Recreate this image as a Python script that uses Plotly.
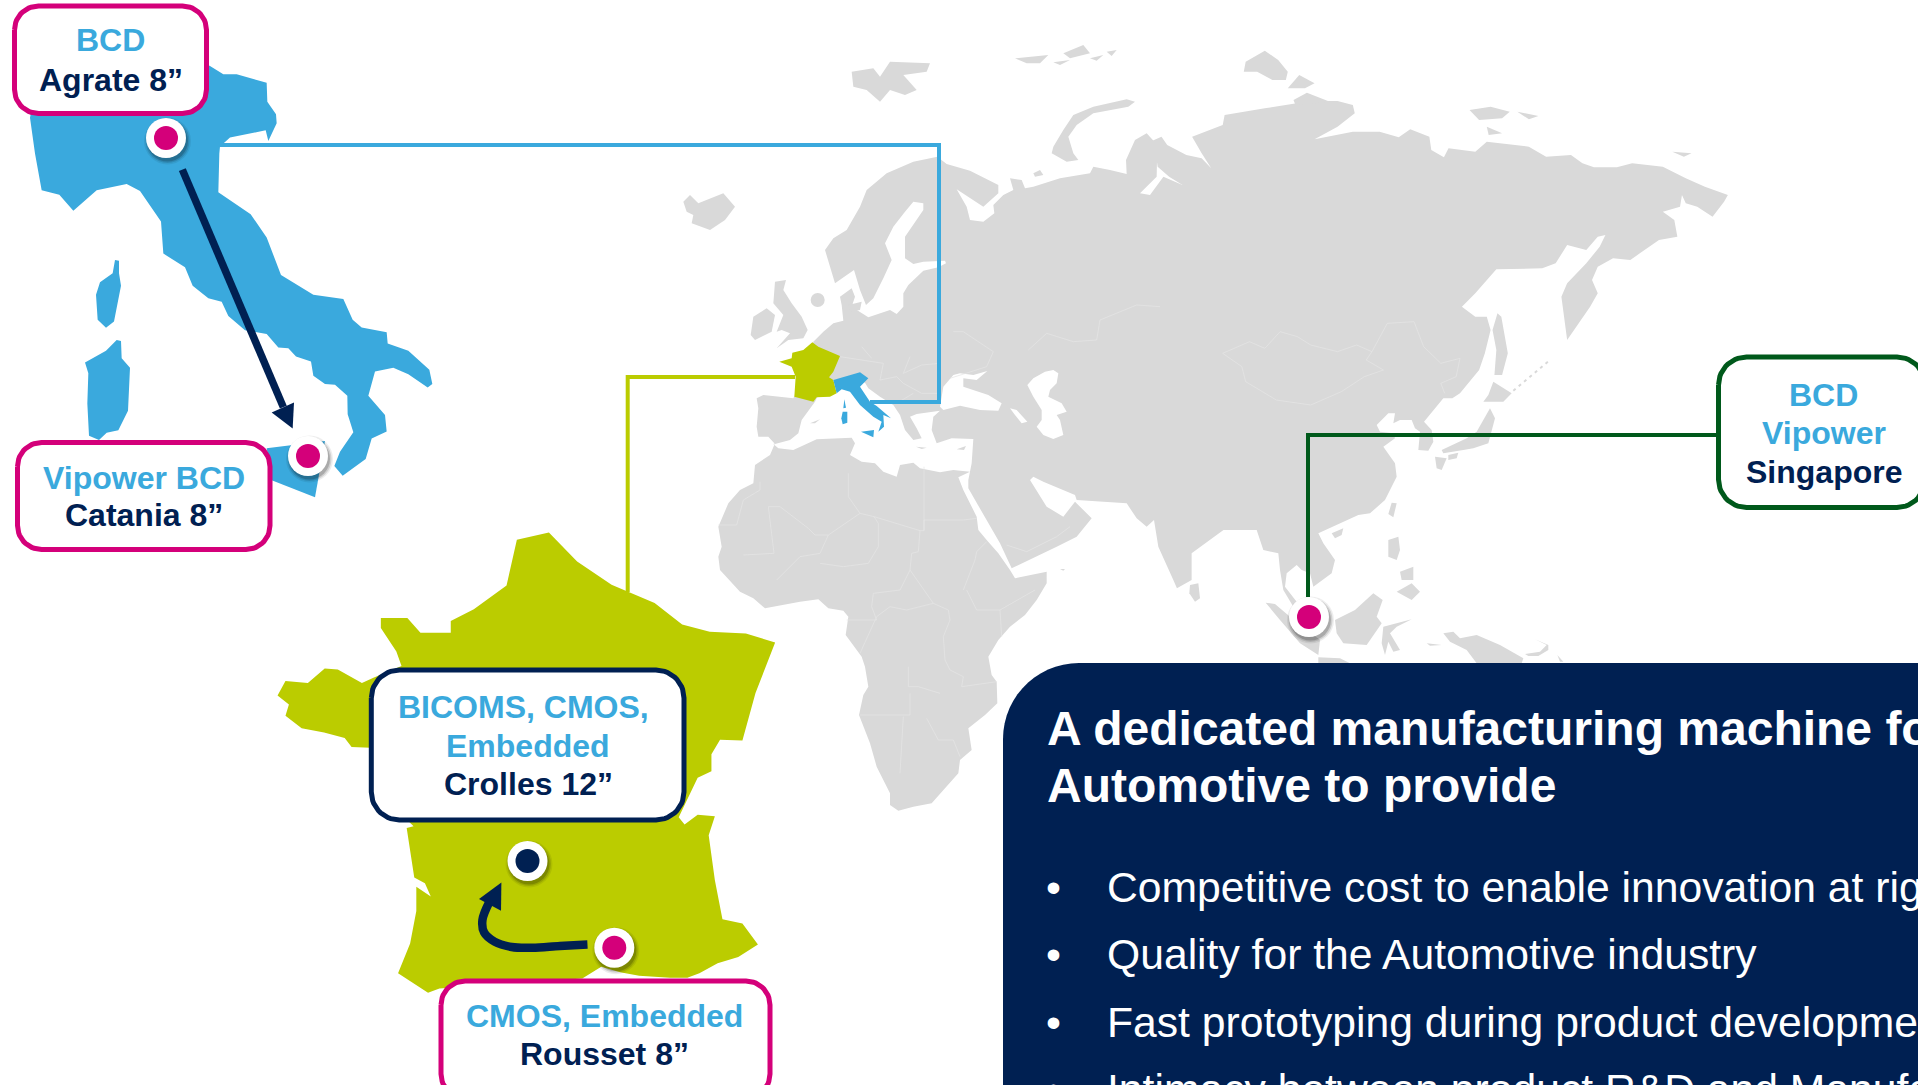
import numpy as np
import plotly.graph_objects as go

W, H = 1918, 1085
GREY, BORDER = "#D9D9D9", "#E5E5E5"
BLUE, OLIVE, MAGENTA, NAVY, GREEN = "#3AA9DD", "#BBCC00", "#D4007A", "#002052", "#00591B"
FONT = "Liberation Sans, Arial, sans-serif"

# frames: (origin x, origin y, scale x, scale y) used when reading the outlines
F1 = (0, 0, 3, 2.8)
F2 = (250, 520, 2.904, 2.775)
F3 = (660, 30, 3, 3)
F4 = (1150, 30, 2.613, 3)
F5 = (700, 420, 3, 3)
F6 = (1150, 340, 2.0417, 3)
F8 = (740, 340, 3, 3)
F9 = (1200, 530, 3, 3)
F10 = (1300, 360, 3, 3)

def P(frame, pts):
    ox, oy, sx, sy = frame
    return [(ox + a / sx, oy + b / sy) for a, b in pts]

EURASIA = (
    P(F3, [(460,935),(490,905),(520,880),(550,872),(545,825),(540,800),(575,775),(585,800),(575,830),(625,862),(690,840),(710,852),(730,830),(730,790),(745,765),(790,722),(835,712),(858,700),(855,692),(790,695),(760,702),(735,685),(735,620),(790,540),(790,520),(760,515),(735,545),(700,590),(675,640),(695,690),(670,745),(640,805),(618,825),(600,780),(582,720),(525,760),(495,660),(520,625),(560,600),(600,530),(620,480),(680,430),(760,395),(832,380),(860,402),(930,422),(1015,465),(1015,490),(970,530),(930,505),(890,478),(920,530),(930,570),(970,575),(1003,550),(1000,525),(1030,495),(1060,480),(1050,445),(1085,450),(1095,475),(1120,470),(1200,445),(1290,430),(1300,410),(1350,420),(1400,432),(1398,390),(1425,330),(1460,310),(1492,345),(1490,440),(1440,490),(1470,495)])
    + P(F4, [(35,440),(85,465),(50,440),(20,410),(15,370),(0,335),(30,320),(45,345),(95,375),(135,385),(160,415),(135,370),(110,320),(190,285),(195,255),(300,235),(350,225),(420,213),(490,213),(530,225),(535,250),(490,290),(430,328),(530,305),(600,305),(650,322),(680,298),(730,320),(735,360),(768,382),(780,355),(850,365),(880,335),(990,350),(1035,380),(1100,375),(1130,400),(1160,412),(1220,412),(1260,400),(1340,410),(1400,445),(1450,470),(1510,495),(1500,515),(1470,560),(1430,530),(1400,520),(1390,495),(1385,530),(1340,545),(1370,570),(1378,620),(1330,630),(1280,670),(1255,690),(1210,685),(1170,710),(1155,750),(1170,790),(1150,830),(1120,880),(1090,930),(1075,800),(1090,760),(1140,700),(1175,650),(1190,615),(1170,620),(1140,660),(1090,645),(1060,700),(1025,715),(905,718),(850,790),(815,830),(850,860),(880,860),(890,900),(875,970),(860,1020),(810,1090),(790,1105)])
    + P(F10, [(430,115),(400,150),(372,185),(395,210),(400,245),(385,272),(355,270),(360,215),(345,205),(335,180),(300,180),(280,190),(285,160),(265,160),(230,195),(240,215),(280,220),(285,235),(250,260),(285,310),(290,350),(255,420),(210,460),(175,465),(110,495),(55,520)])
    + P(F9, [(370,40),(405,90),(395,130),(340,170),(330,130),(305,120),(290,105),(260,130),(255,170),(290,215),(280,230),(250,180),(240,120),(235,70),(190,60),(170,0)])
    + P(F6, [(150,570),(85,640),(85,720),(55,745)])
    + P(F5, [(1420,480),(1375,380),(1362,300),(1340,320),(1310,295),(1280,250),(1130,240),(1125,225),(1030,185),(1000,170),(990,180),(1040,260),(1090,290),(1115,260),(1125,245),(1175,295),(1130,350),(1070,380),(935,445),(900,370),(860,300),(805,205),(805,180),(815,130)])
    + P(F8, [(700,297),(635,295),(590,310),(575,270),(580,230),(600,212),(530,222),(510,230),(530,265),(545,295),(520,300),(495,270),(480,225),(460,195),(420,170),(385,145),(375,128),(340,115),(280,120),(230,175),(225,185),(185,240),(175,280),(150,300),(105,312),(85,290),(55,290),(50,260),(55,205),(50,175),(70,165),(160,175),(200,100)])
)

AFRICA = (
    P(F8, [(100,312),(115,325),(160,330),(230,298),(300,295),(335,293),(345,310),(330,345),(365,365),(405,370),(430,395),(470,410),(480,375),(520,368),(540,385),(600,397),(640,390),(690,395)])
    + P(F5, [(775,172),(790,210),(830,290),(835,330),(860,360),(895,400),(930,450),(945,475),(1040,455),(1040,490),(1010,540),(975,585),(930,620),(895,660),(865,710),(875,765),(890,785),(892,850),(855,885),(805,925),(815,990),(780,1020),(775,1060),(730,1110),(695,1150),(640,1160),(595,1172),(570,1155),(570,1120),(530,1040),(510,970),(477,885),(490,825),(505,800),(495,740),(485,710),(437,645),(445,590),(430,572),(385,565),(355,538),(300,545),(195,565),(160,535),(120,515),(60,450),(55,410),(65,380),(55,320),(85,250),(120,210),(160,190),(165,135),(210,105),(225,70)])
)

ISLANDS = [
    P(F3, [(345,755),(378,750),(370,780),(395,820),(425,860),(443,900),(430,925),(385,930),(350,955),(390,910),(365,900),(350,905),(370,855),(340,820)]),
    P(F3, [(280,860),(320,835),(345,855),(335,905),(285,930),(272,915)]),
    P(F3, [(70,515),(90,495),(115,520),(190,490),(225,530),(195,570),(150,600),(120,590),(95,580),(100,555),(80,545)]),
    P(F3, [(575,125),(640,115),(660,140),(690,95),(810,100),(800,125),(730,135),(770,180),(735,195),(690,180),(660,215),(620,180),(580,170)]),
    P(F3, [(1065,85),(1165,75),(1140,100),(1100,100)]),
    P(F3, [(1180,97),(1230,90),(1200,105)]),
    P(F3, [(1210,70),(1270,45),(1290,70),(1230,85)]),
    P(F3, [(1290,85),(1330,75),(1310,92)]),
    P(F3, [(1340,65),(1370,60),(1355,78)]),
    P(F3, [(1180,350),(1210,300),(1240,255),(1300,230),(1400,208),(1425,215),(1405,230),(1300,250),(1250,285),(1225,320),(1240,370),(1255,390),(1220,395),(1175,370)]),
    P(F3, [(1120,430),(1140,420),(1150,435),(1125,440)]),
    P(F3, [(565,825),(605,815),(600,840),(570,845)]),
    P(F4, [(250,95),(300,62),(335,90),(360,125),(355,150),(320,150),(280,125),(245,125)]),
    P(F4, [(360,175),(390,135),(430,160),(405,175)]),
    P(F4, [(375,210),(410,188),(470,215),(380,225)]),
    P(F4, [(835,240),(890,230),(940,245),(920,265),(860,270)]),
    P(F4, [(960,245),(1015,258),(990,268)]),
    P(F4, [(880,290),(920,310),(885,315)]),
    P(F4, [(1365,365),(1415,370),(1395,380)]),
    P(F4, [(908,850),(918,860),(935,970),(920,1035),(900,1035),(905,960),(895,900)]),
    P(F10, [(580,65),(635,100),(610,125),(550,125),(565,105)]),
    P(F10, [(570,145),(585,175),(565,250),(520,265),(490,270),(430,280),(425,270),(500,235),(530,215),(555,170)]),
    P(F10, [(445,285),(475,278),(470,295),(445,300)]),
    P(F10, [(405,290),(440,295),(425,330),(410,325)]),
    P(F10, [(95,520),(130,505),(125,525),(105,535)]),
    P(F10, [(275,428),(290,430),(280,472),(265,462)]),
    P(F9, [(565,30),(595,20),(600,60),(590,90),(565,80)]),
    P(F9, [(600,125),(640,110),(640,150),(605,150)]),
    P(F9, [(590,185),(635,160),(660,185),(635,210)]),
    P(F9, [(405,270),(465,240),(520,190),(548,210),(530,260),(545,280),(500,345),(430,340),(410,310)]),
    P(F9, [(197,218),(225,222),(270,260),(360,330),(355,375),(300,340),(240,270)]),
    P(F9, [(355,382),(420,385),(450,400),(355,400)]),
    P(F9, [(550,290),(635,268),(590,290),(570,310),(600,360),(580,365),(565,335),(555,375),(545,340)]),
    P(F9, [(730,310),(760,305),(780,325),(830,315),(900,345),(970,385),(965,400),(830,400),(800,360),(750,335)]),
    P(F9, [(975,372),(1020,365),(1040,345),(1005,328),(1045,345),(1045,360),(1015,378),(985,378)]),
    P(F9, [(680,340),(725,345),(690,347)]),
    P(F9, [(1072,375),(1090,395),(1080,395)]),
    P(F5, [(1470,495),(1495,490),(1500,535),(1485,545),(1468,520)]),
    P(F5, [(1080,447),(1095,447),(1090,452)]),
    P(F8, [(650,328),(678,318),(672,330)]),
    P(F8, [(528,320),(560,323),(545,327)]),
    P(F8, [(210,250),(240,238),(225,250)]),
]

WATER = [
    P(F8, [(940,90),(955,100),(950,130),(930,150),(925,170),(965,190),(980,215),(950,225),(960,240),(970,285),(940,297),(910,285),(890,260),(905,240),(905,210),(880,170),(862,135),(880,115),(915,95)]),
    P(F8, [(610,210),(660,197),(720,210),(775,212),(785,190),(745,165),(670,140),(670,115),(710,120),(742,93),(700,105),(660,100),(640,105),(610,140),(600,200)]),
    P(F8, [(810,205),(830,210),(862,245),(845,250),(825,225)]),
]

BORDERS = [
    P(F5, b) for b in [
        [(55,315),(110,315),(130,240),(180,210)], [(180,185),(180,210)],
        [(205,260),(240,260),(325,325),(345,345),(385,345),(480,280),(522,290),(660,332),(672,332),(672,300),(790,300),(830,295)],
        [(672,332),(672,140)], [(445,160),(445,230),(480,280)], [(130,405),(222,400),(205,260)],
        [(385,345),(360,400),(300,410),(230,480)], [(360,430),(430,440),(505,430),(535,380),(535,310),(522,290)],
        [(660,332),(655,395),(635,400),(630,450),(600,510),(520,520),(515,560),(530,600),(440,600)],
        [(630,450),(680,520),(700,550),(745,570),(750,600),(730,650),(735,720),(750,750),(790,770),(785,800),(890,785)],
        [(700,550),(620,570),(570,560),(530,590),(480,700)],
        [(800,510),(830,570),(900,570),(1005,510)], [(900,570),(905,650)],
        [(625,740),(625,800),(655,800),(720,820)], [(630,820),(630,885),(480,885)],
        [(610,890),(600,1060)], [(680,895),(715,960),(760,960),(780,1010)],
        [(860,365),(830,395),(825,420),(790,510)], [(1110,320),(1070,350),(980,395),(920,375)],
    ]
] + [
    P(F4, [(190,970),(260,935),(300,955),(340,905),(385,920),(420,945),(490,965),(540,945),(580,965),(620,880),(690,875),(715,950),(760,1000),(810,985),(800,1040),(760,1060),(770,1090)]),
    P(F4, [(190,970),(240,1010),(250,1055),(330,1110),(420,1125),(500,1085),(560,1040),(610,1020),(565,990),(580,965)]),
    P(F8, [(300,50),(365,60),(430,70),(420,120),(470,110),(490,130),(545,160),(598,160)]),
    P(F8, [(510,50),(490,100),(545,75),(600,70)]),
    P(F8, [(365,20),(395,55)]), P(F8, [(520,160),(470,190)]),
    P(F3, [(1105,960),(1160,910),(1240,935),(1310,930),(1320,870),(1430,825),(1500,830)]),
    P(F3, [(880,905),(910,905),(1000,965),(980,1010),(870,1045)]),
]

KURILS = P(F10, [(640,92),(750,0)])
NORTH_SEA_SPOT = P(F3, [(473,810)])

MINI_FRANCE = P(F3, [(457,937),(475,950),(540,978),(520,1025),(507,1042),(520,1050),(530,1090),(510,1100),(470,1102),(460,1115),(403,1100),(407,1040),(395,1010),(358,995),(395,985),(397,968),(430,960)])
MINI_ITALY = [
    P(F3, [(520,1050),(570,1035),(600,1027),(625,1045),(600,1070),(630,1115),(650,1128),(693,1165),(670,1155),(672,1190),(655,1205),(665,1175),(640,1160),(600,1125),(570,1085),(545,1078),(530,1090)]),
    P(F3, [(548,1145),(562,1145),(562,1178),(548,1183),(544,1165)]),
    P(F3, [(553,1108),(558,1133),(550,1135)]),
    P(F3, [(603,1205),(642,1200),(640,1222)]),
]

BIG_ITALY = [
    P(F1, [(90,330),(100,280),(560,150),(630,185),(670,208),(710,208),(800,232),(802,285),(828,320),(830,345),(805,395),(797,365),(690,385),(660,410),(658,430),(655,538),(752,600),(800,665),(843,770),(940,825),(1030,837),(1058,895),(1085,917),(1160,930),(1163,962),(1225,982),(1288,1035),(1297,1075),(1283,1085),(1225,1048),(1180,1030),(1125,1040),(1105,1108),(1155,1162),(1160,1208),(1115,1228),(1097,1285),(1028,1332),(1003,1305),(1020,1265),(1060,1210),(1043,1160),(1042,1108),(1005,1077),(975,1075),(940,1052),(933,1012),(888,998),(865,975),(835,973),(800,935),(735,925),(685,885),(665,845),(625,835),(578,800),(555,748),(490,710),(483,620),(420,535),(380,515),(290,533),(220,590),(178,545),(125,533),(105,430)]),
    P(F1, [(350,952),(363,955),(365,1003),(390,1030),(384,1150),(355,1205),(320,1212),(297,1232),(267,1220),(262,1130),(265,1045),(255,1015),(318,982)]),
    P(F1, [(345,728),(357,730),(357,765),(363,800),(342,900),(318,918),(293,895),(288,825),(300,790),(338,765)]),
    P(F1, [(800,1255),(975,1235),(945,1392),(815,1345)]),
]

BIG_FRANCE = P(F2, [(775,55),(868,35),(950,115),(1050,180),(1175,230),(1255,290),(1335,310),(1440,315),(1525,340),(1468,480),(1430,612),(1365,610),(1340,650),(1340,697),(1300,715),(1268,780),(1245,825),(1262,845),(1300,818),(1350,822),(1332,875),(1350,1000),(1372,1108),(1430,1120),(1475,1178),(1418,1213),(1358,1230),(1305,1258),(1270,1270),(1220,1270),(1130,1265),(1075,1255),(1020,1240),(965,1272),(550,1300),(517,1312),(430,1258),(465,1175),(483,1085),(483,1018),(525,1045),(508,1008),(477,992),(455,855),(475,850),(400,780),(350,632),(295,630),(275,605),(215,590),(150,578),(103,543),(113,512),(80,487),(103,447),(168,452),(217,412),(255,415),(325,452),(360,437),(440,405),(425,365),(380,300),(380,272),(457,272),(495,313),(583,313),(583,280),(650,248),(745,182)])

LINE_ITALY = [(220,145),(939,145),(939,402),(870,402)]
LINE_FRANCE = [(627.7,592),(627.7,377),(795,377)]
LINE_SINGAPORE = [(1717,435),(1308,435),(1308,597)]

ARROW_ITALY = P(F1, [(547,475),(850,1140)])
ARROW_ITALY_HEAD = P(F1, [(815,1155),(882,1127),(878,1200)])
ARROW_FRANCE = P(F2, [(980,1178),(900,1182),(820,1187),(760,1185),(710,1170),(680,1145),(675,1110),(695,1060)])
ARROW_FRANCE_HEAD = P(F2, [(665,1052),(730,1006),(729,1084)])

# pins: x, y, centre colour
PIN_X = [166, 308, 527.5, 614.3, 1309]
PIN_Y = [138, 456, 861, 947.7, 617]
PIN_C = [MAGENTA, MAGENTA, NAVY, MAGENTA, MAGENTA]

# boxes: left, right, top, bottom, radius, border colour
BOXES = [
    (14.5, 206.5, 6, 113.5, 24, MAGENTA),
    (17.5, 270, 442.5, 549.5, 24, MAGENTA),
    (371.3, 684, 670, 820, 28, NAVY),
    (441, 770, 981, 1098, 24, MAGENTA),
    (1718.5, 1925, 357, 507.5, 28, GREEN),
]

# labels: x, y, text, colour
LABELS = [
    (110.7, 40, "BCD", BLUE), (110.7, 80, "Agrate 8”", NAVY),
    (144, 478, "Vipower BCD", BLUE), (144, 515, "Catania 8”", NAVY),
    (523, 706.7, "BICOMS, CMOS,", BLUE), (527.5, 746, "Embedded", BLUE), (528, 783.8, "Crolles 12”", NAVY),
    (604.7, 1015.5, "CMOS, Embedded", BLUE), (604.7, 1054, "Rousset 8”", NAVY),
    (1823.5, 395, "BCD", BLUE), (1823.5, 433, "Vipower", BLUE), (1823.5, 471.7, "Singapore", NAVY),
]

HEADING = ["A dedicated manufacturing machine for", "Automotive to provide"]
HEADING_Y = [728, 785.5]
BULLETS = ["Competitive cost to enable innovation at right cost", "Quality for the Automotive industry",
           "Fast prototyping during product development", "Intimacy between product R&amp;D and Manufacturing"]
BULLET_Y = [887, 954, 1022, 1080]
BULLET_SHIFT = [0, 0, 0, -9]


def rounded(x0, x1, y0, y1, r):
    t = np.linspace(0, np.pi / 2, 16)
    xs = np.concatenate([x0 + r - r * np.cos(t), x1 - r + r * np.sin(t), x1 - r + r * np.cos(t), x0 + r - r * np.sin(t)])
    ys = np.concatenate([y0 + r - r * np.sin(t), y0 + r - r * np.cos(t), y1 - r + r * np.sin(t), y1 - r + r * np.cos(t)])
    return list(xs) + [xs[0]], list(ys) + [ys[0]]


fig = go.Figure()

def poly(pts, color):
    xs, ys = zip(*pts)
    fig.add_trace(go.Scatter(x=list(xs) + [xs[0]], y=list(ys) + [ys[0]], mode="lines", fill="toself",
                             fillcolor=color, line=dict(width=0, color=color), hoverinfo="skip", showlegend=False))

def polyline(pts, color, width, dash=None, spline=False):
    xs, ys = zip(*pts)
    fig.add_trace(go.Scatter(x=xs, y=ys, mode="lines", hoverinfo="skip", showlegend=False,
                             line=dict(color=color, width=width, dash=dash, shape="spline" if spline else "linear")))

poly(EURASIA, GREY)
poly(AFRICA, GREY)
for p in ISLANDS:
    poly(p, GREY)
for p in WATER:
    poly(p, "white")
for b in BORDERS:
    polyline(b, BORDER, 0.7)
polyline(KURILS, GREY, 2, dash="3px,4px")
fig.add_trace(go.Scatter(x=[NORTH_SEA_SPOT[0][0]], y=[NORTH_SEA_SPOT[0][1]], mode="markers", hoverinfo="skip",
                         showlegend=False, marker=dict(size=14, color=GREY)))

poly(MINI_FRANCE, OLIVE)
for p in MINI_ITALY:
    poly(p, BLUE)
for p in BIG_ITALY:
    poly(p, BLUE)
poly(BIG_FRANCE, OLIVE)

polyline(LINE_ITALY, BLUE, 4)
polyline(LINE_FRANCE, OLIVE, 4)
polyline(LINE_SINGAPORE, GREEN, 4)

polyline(ARROW_ITALY, NAVY, 7.5)
poly(ARROW_ITALY_HEAD, NAVY)
polyline(ARROW_FRANCE, NAVY, 8.5, spline=True)
poly(ARROW_FRANCE_HEAD, NAVY)

for size, alpha in [(47, 0.07), (44, 0.12), (41, 0.18)]:
    fig.add_trace(go.Scatter(x=[x + 1.5 for x in PIN_X], y=[y + 3 for y in PIN_Y], mode="markers", hoverinfo="skip",
                             showlegend=False, marker=dict(size=size, color=f"rgba(0,0,0,{alpha})", line=dict(width=0))))
fig.add_trace(go.Scatter(x=PIN_X, y=PIN_Y, mode="markers", hoverinfo="skip", showlegend=False,
                         marker=dict(size=40, color="white", line=dict(width=0))))
fig.add_trace(go.Scatter(x=PIN_X, y=PIN_Y, mode="markers", hoverinfo="skip", showlegend=False,
                         marker=dict(size=24, color=PIN_C, line=dict(width=0))))

for x0, x1, y0, y1, r, c in BOXES:
    xs, ys = rounded(x0, x1, y0, y1, r)
    fig.add_trace(go.Scatter(x=xs, y=ys, mode="lines", fill="toself", fillcolor="white", hoverinfo="skip",
                             showlegend=False, line=dict(color=c, width=5)))

xs, ys = rounded(1003, 2100, 663, 1400, 76)
fig.add_trace(go.Scatter(x=xs, y=ys, mode="lines", fill="toself", fillcolor=NAVY, hoverinfo="skip",
                         showlegend=False, line=dict(color=NAVY, width=0)))

for x, y, t, c in LABELS:
    fig.add_annotation(x=x, y=y, text=f"<b>{t}</b>", showarrow=False, xanchor="center", yanchor="middle",
                       font=dict(family=FONT, size=32, color=c))
for t, y in zip(HEADING, HEADING_Y):
    fig.add_annotation(x=1044.5, y=y, text=f"<b>{t}</b>", showarrow=False, xanchor="left", yanchor="middle", align="left",
                       font=dict(family=FONT, size=48, color="white"))
for t, y, s in zip(BULLETS, BULLET_Y, BULLET_SHIFT):
    fig.add_annotation(x=1044, y=y, yshift=s, text="•", showarrow=False, xanchor="left", yanchor="middle",
                       font=dict(family=FONT, size=42.67, color="white"))
    fig.add_annotation(x=1104.5, y=y, yshift=s, text=t, showarrow=False, xanchor="left", yanchor="middle", align="left",
                       font=dict(family=FONT, size=42.67, color="white"))

fig.update_layout(width=W, height=H, margin=dict(l=0, r=0, t=0, b=0), paper_bgcolor="white", plot_bgcolor="white",
                  xaxis=dict(range=[0, W], visible=False),
                  yaxis=dict(range=[H, 0], visible=False), showlegend=False)
fig.write_html("out.html", config=dict(displayModeBar=False),
               post_script="document.body.style.margin='0';document.body.style.overflow='hidden';")
